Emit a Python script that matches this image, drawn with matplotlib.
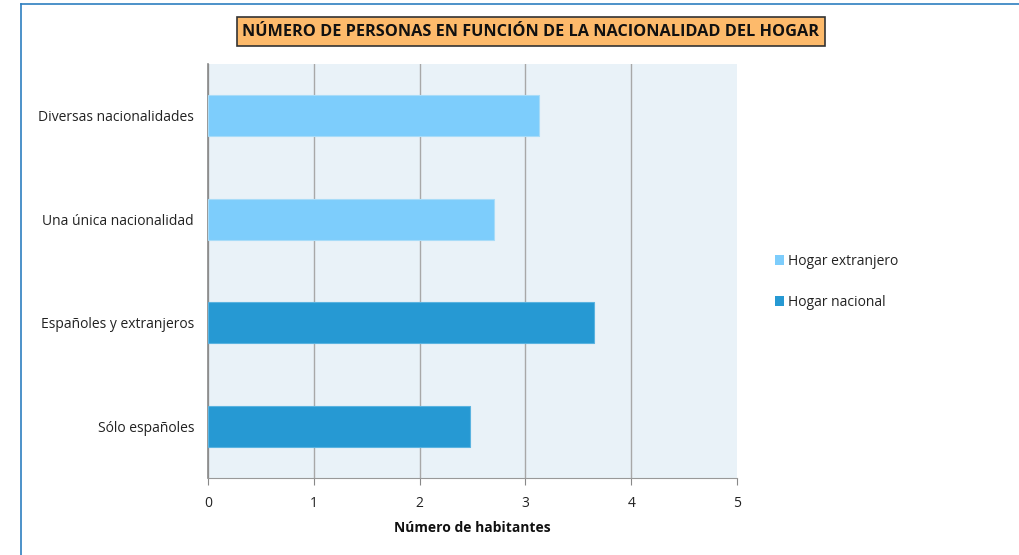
import matplotlib
matplotlib.use("Agg")
import matplotlib.pyplot as plt
from matplotlib.patches import Rectangle, Patch

categories = ["Sólo españoles", "Españoles y extranjeros", "Una única nacionalidad", "Diversas nacionalidades"]
values = [2.48, 3.65, 2.70, 3.13]
groups = ["Hogar nacional", "Hogar nacional", "Hogar extranjero", "Hogar extranjero"]
x_ticks = [0, 1, 2, 3, 4, 5]
title = "NÚMERO DE PERSONAS EN FUNCIÓN DE LA NACIONALIDAD DEL HOGAR"
xlabel = "Número de habitantes"

colors = {"Hogar extranjero": "#7DCDFC", "Hogar nacional": "#2699D3"}
edges = {"Hogar extranjero": "#A8DCF8", "Hogar nacional": "#5AB3E0"}

plt.rcParams['font.family'] = ['Open Sans', 'DejaVu Sans']

W, H = 1019, 555
fig = plt.figure(figsize=(W/100, H/100), dpi=100)
ax = fig.add_axes([208/W, 1-478/H, (737-208)/W, (478-64)/H])
ax.set_facecolor("#E9F2F8")

for i, (c, v, g) in enumerate(zip(categories, values, groups)):
    ax.barh(i, v, height=0.4, color=colors[g], edgecolor=edges[g], linewidth=0.8, zorder=3)

ax.set_xlim(0, 5)
ax.set_ylim(-0.5, len(categories) - 0.5)
ax.set_xticks(x_ticks)
ax.set_xticklabels([str(t) for t in x_ticks], fontsize=10, color="#222222")
ax.set_yticks(range(len(categories)))
ax.set_yticklabels(categories, fontsize=10, color="#222222")
ax.tick_params(axis='y', length=0, pad=10)
ax.tick_params(axis='x', length=5, color="#888888", pad=8, direction='out')
ax.xaxis.grid(True, color="#A8A8A8", linewidth=1.0, zorder=1)
ax.set_axisbelow(True)
gl = ax.xaxis.get_gridlines()
gl[-1].set_visible(False)
for s in ["top", "right"]:
    ax.spines[s].set_visible(False)
ax.spines["left"].set_color("#888888")
ax.spines["left"].set_linewidth(1.2)
ax.spines["bottom"].set_color("#999999")
ax.set_xlabel(xlabel, fontsize=10, fontweight='bold', color="#111111", labelpad=7)

handles = [Patch(facecolor=colors["Hogar extranjero"], label="Hogar extranjero"),
           Patch(facecolor=colors["Hogar nacional"], label="Hogar nacional")]
leg = fig.legend(handles=handles, loc='center left', bbox_to_anchor=(762/W, 1-282/H),
                 frameon=False, fontsize=10, handlelength=0.7, handleheight=0.7,
                 handletextpad=0.3, labelspacing=1.85)
for t in leg.get_texts():
    t.set_color("#222222")

# Title box
fig.patches.append(Rectangle((237/W, 1-46/H), (825-237)/W, (46-17)/H, transform=fig.transFigure,
                             facecolor="#FDBA6B", edgecolor="#333333", linewidth=1.2))
fig.text(531/W, 1-32/H, title, ha='center', va='center', fontsize=11.7, fontweight='bold', color="#111111")

# Outer frame lines (left and top)
fig.add_artist(plt.Line2D([21/W, 21/W], [0, 1-4/H], transform=fig.transFigure, color="#2E7FC0", linewidth=1.2))
fig.add_artist(plt.Line2D([21/W, 1], [1-4/H, 1-4/H], transform=fig.transFigure, color="#2E7FC0", linewidth=1.2))

fig.savefig("out.png", dpi=100)
